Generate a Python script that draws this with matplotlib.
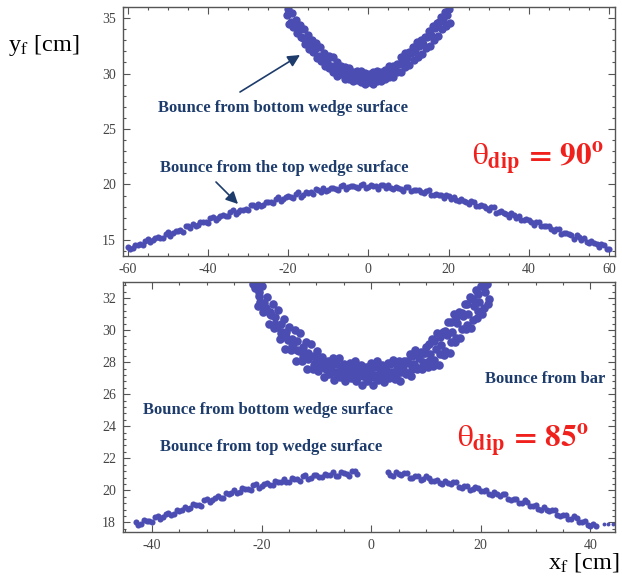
import matplotlib
matplotlib.use('Agg')
import matplotlib.pyplot as plt
from matplotlib.ticker import MultipleLocator

plt.rcParams['font.family'] = 'serif'
plt.rcParams['font.serif'] = ['Liberation Serif', 'DejaVu Serif']
plt.rcParams['mathtext.fontset'] = 'stix'

# --- theta_dip = 90 deg : bounce from top wedge surface (arc)
x90_top = [-60, -58.75, -57.5, -56.25, -55, -53.75, -52.5, -51.25, -50, -48.75, -47.5, -46.25,
           -45, -43.75, -42.5, -41.25, -40, -38.75, -37.5, -36.25, -35, -33.75, -32.5, -31.25,
           -30, -28.75, -27.5, -26.25, -25, -23.75, -22.5, -21.25, -20, -18.75, -17.5, -16.25,
           -15, -13.75, -12.5, -11.25, -10, -8.75, -7.5, -6.25, -5, -3.75, -2.5, -1.25,
           0, 1.25, 2.5, 3.75, 5, 6.25, 7.5, 8.75, 10, 11.25, 12.5, 13.75,
           15, 16.25, 17.5, 18.75, 20, 21.25, 22.5, 23.75, 25, 26.25, 27.5, 28.75,
           30, 31.25, 32.5, 33.75, 35, 36.25, 37.5, 38.75, 40, 41.25, 42.5, 43.75,
           45, 46.25, 47.5, 48.75, 50, 51.25, 52.5, 53.75, 55, 56.25, 57.5, 58.75, 60,
           -59.4, -58.1, -56.9, -55.6, -54.4, -53.1, -51.9, -50.6, -49.4, -48.1, -46.9, -45.6,
           -44.4, -43.1, -41.9, -40.6, -39.4, -38.1, -36.9, -35.6, -34.4, -33.1, -31.9, -30.6,
           -29.4, -28.1, -26.9, -25.6, -24.4, -23.1, -21.9, -20.6, -19.4, -18.1, -16.9, -15.6,
           -14.4, -13.1, -11.9, -10.6, -9.4, -8.1, -6.9, -5.6, -4.4, -3.1, -1.9, -0.6,
           0.6, 1.9, 3.1, 4.4, 5.6, 6.9, 8.1, 9.4, 10.6, 11.9, 13.1, 14.4,
           15.6, 16.9, 18.1, 19.4, 20.6, 21.9, 23.1, 24.4, 25.6, 26.9, 28.1, 29.4,
           30.6, 31.9, 33.1, 34.4, 35.6, 36.9, 38.1, 39.4, 40.6, 41.9, 43.1, 44.4,
           45.6, 46.9, 48.1, 49.4, 50.6, 51.9, 53.1, 54.4, 55.6, 56.9, 58.1, 59.4]
y90_top = [14.35, 14.27, 14.58, 14.52, 15.06, 14.98, 15.26, 15.18, 15.71, 15.58, 15.81, 15.75,
           16.24, 16.41, 16.32, 16.61, 16.54, 17.07, 16.98, 17.25, 17.16, 17.67, 17.52, 17.74,
           17.66, 18.12, 18.27, 18.16, 18.43, 18.33, 18.83, 18.70, 18.95, 18.81, 19.28, 19.09,
           19.27, 19.13, 19.54, 19.64, 19.48, 19.67, 19.50, 19.93, 19.74, 19.89, 19.66, 20.05,
           19.78, 19.84, 19.60, 19.92, 19.92, 19.63, 19.72, 19.45, 19.78, 19.46, 19.51, 19.19,
           19.48, 19.09, 19.07, 18.75, 18.98, 18.88, 18.53, 18.55, 18.21, 18.46, 18.09, 18.09,
           17.72, 17.95, 17.52, 17.46, 17.10, 17.28, 17.16, 16.77, 16.76, 16.39, 16.62, 16.23,
           16.21, 15.81, 16.02, 15.58, 15.50, 15.12, 15.29, 15.16, 14.76, 14.74, 14.36, 14.57, 14.17,
           14.17, 14.55, 14.59, 14.94, 14.80, 15.15, 15.17, 15.54, 15.37, 15.80, 15.88, 16.22,
           16.10, 16.23, 16.60, 16.62, 16.95, 16.80, 17.14, 17.16, 17.51, 17.32, 17.73, 17.80,
           18.12, 17.97, 18.08, 18.43, 18.42, 18.73, 18.54, 18.85, 18.83, 19.14, 18.91, 19.28,
           19.30, 19.56, 19.36, 19.42, 19.71, 19.63, 19.87, 19.62, 19.84, 19.73, 19.95, 19.64,
           19.91, 19.82, 19.99, 19.69, 19.64, 19.81, 19.63, 19.77, 19.40, 19.51, 19.30, 19.43,
           19.01, 19.18, 19.01, 19.09, 18.70, 18.56, 18.67, 18.42, 18.49, 18.06, 18.12, 17.86,
           17.93, 17.46, 17.59, 17.38, 17.42, 16.99, 16.82, 16.89, 16.62, 16.66, 16.21, 16.25,
           15.96, 16.01, 15.53, 15.64, 15.41, 15.43, 15.00, 14.82, 14.88, 14.59, 14.61, 14.15]

# --- theta_dip = 90 deg : bounce from bottom wedge surface (parabola)
x90_bot = [-19.75, -20.3, -19.95, -18.75, -19.3, -18.95, -17.75, -18.3, -17.95, -16.75, -17.3, -16.95,
           -15.75, -16.3, -15.95, -14.75, -15.3, -14.95, -13.75, -14.3, -13.95, -12.75, -13.3, -12.95,
           -11.75, -12.3, -11.95, -10.75, -11.3, -10.95, -9.75, -10.3, -9.95, -8.75, -9.3, -8.95,
           -7.75, -8.3, -7.95, -6.75, -7.3, -6.95, -5.75, -6.3, -5.95, -4.75, -5.3, -4.95,
           -3.75, -4.3, -3.95, -2.75, -3.3, -2.95, -1.75, -2.3, -1.95, -0.75, -1.3, -0.95,
           0.25, -0.3, 0.05, 1.25, 0.7, 1.05, 2.25, 1.7, 2.05, 3.25, 2.7, 3.05,
           4.25, 3.7, 4.05, 5.25, 4.7, 5.05, 6.25, 5.7, 6.05, 7.25, 6.7, 7.05,
           8.25, 7.7, 8.05, 9.25, 8.7, 9.05, 10.25, 9.7, 10.05, 11.25, 10.7, 11.05,
           12.25, 11.7, 12.05, 13.25, 12.7, 13.05, 14.25, 13.7, 14.05, 15.25, 14.7, 15.05,
           16.25, 15.7, 16.05, 17.25, 16.7, 17.05, 18.25, 17.7, 18.05, 19.25, 18.7, 19.05,
           20.25, 19.7, 20.05]
y90_bot = [34.5, 35.28, 35.85, 34.2, 34.65, 35.47, 33.65, 34.32, 34.82, 33.3, 33.92, 34.4,
           32.7, 33.24, 34.0, 32.18, 32.9, 33.45, 31.98, 32.38, 33.0, 31.4, 32.18, 32.75,
           31.15, 31.6, 32.42, 30.7, 31.37, 31.87, 30.5, 31.12, 31.6, 30.15, 30.69, 31.45,
           29.78, 30.5, 31.05, 29.93, 30.18, 30.65, 29.55, 30.18, 30.6, 29.55, 29.85, 30.52,
           29.3, 29.82, 30.17, 29.4, 29.87, 30.2, 29.25, 29.64, 30.25, 29.08, 29.65, 30.05,
           29.23, 29.48, 29.95, 29.1, 29.73, 30.15, 29.3, 29.6, 30.27, 29.3, 29.82, 30.17,
           29.55, 30.02, 30.35, 29.65, 30.04, 30.65, 29.73, 30.3, 30.7, 30.18, 30.43, 30.9,
           30.1, 30.88, 31.45, 30.55, 31.0, 31.82, 30.75, 31.42, 31.92, 31.25, 31.87, 32.35,
           31.5, 32.04, 32.8, 31.73, 32.45, 33.0, 32.28, 32.68, 33.3, 32.5, 33.28, 33.85,
           33.05, 33.5, 34.32, 33.4, 34.07, 34.57, 34.0, 34.62, 35.1, 34.3, 34.84, 35.55,
           34.58, 35.3, 35.85]

# --- theta_dip = 85 deg : bounce from bottom wedge surface / bar (parabola)
x85_bot = [-20.7, -21.25, -20.95, -19.7, -20.25, -19.95, -18.7, -19.25, -18.95, -17.7, -18.25, -17.95,
           -16.7, -17.25, -16.95, -15.7, -16.25, -15.95, -14.7, -15.25, -14.95, -13.7, -14.25, -13.95,
           -12.7, -13.25, -12.95, -11.7, -12.25, -11.95, -10.7, -11.25, -10.95, -9.7, -10.25, -9.95,
           -8.7, -9.25, -8.95, -7.7, -8.25, -7.95, -6.7, -7.25, -6.95, -5.7, -6.25, -5.95,
           -4.7, -5.25, -4.95, -3.7, -4.25, -3.95, -2.7, -3.25, -2.95, -1.7, -2.25, -1.95,
           -0.7, -1.25, -0.95, 0.3, -0.25, 0.05, 1.3, 0.75, 1.05, 2.3, 1.75, 2.05,
           3.3, 2.75, 3.05, 4.3, 3.75, 4.05, 5.3, 4.75, 5.05, 6.3, 5.75, 6.05,
           7.3, 6.75, 7.05, 8.3, 7.75, 8.05, 9.3, 8.75, 9.05, 10.3, 9.75, 10.05,
           11.3, 10.75, 11.05, 12.3, 11.75, 12.05, 13.3, 12.75, 13.05, 14.3, 13.75, 14.05,
           15.3, 14.75, 15.05, 16.3, 15.75, 16.05, 17.3, 16.75, 17.05, 18.3, 17.75, 18.05,
           19.3, 18.75, 19.05, 20.3, 19.75, 20.05, 21.3, 20.75, 21.05,
           -20.5, -19.5, -18.5, -17.5, -16.5, -15.5, -14.5, -13.5, -12.5, -11.5, -10.5,
           -9.5, -8.5, -7.5, -6.5, -5.5, -4.5, -3.5, -2.5, -1.5, -0.5, 0.5, 1.5, 2.5, 3.5,
           4.5, 5.5, 6.5, 7.5, 8.5, 9.5, 10.5, 11.5, 12.5, 13.5, 14.5, 15.5, 16.5, 17.5,
           18.5, 19.5, 20.5, 21.5,
           -21.5, -20.5, -19.5, -18.5, -17.5, -16.5, -15.5, -14.5, -13.5, -12.5, -11.5,
           -10.5, -9.5, -8.5, -7.5, -6.5, -5.5, -4.5, -3.5, -2.5, -1.5, -0.5, 0.5, 1.5,
           2.5, 3.5, 4.5, 5.5, 6.5, 7.5, 8.5, 9.5, 10.5, 11.5, 12.5, 13.5, 14.5, 15.5,
           16.5, 17.5, 18.5, 19.5, 20.5]
y85_bot = [31.5, 32.6, 32.85, 31.15, 31.78, 32.75, 30.4, 31.35, 32.05, 30.1, 30.95, 31.65,
           29.45, 30.22, 31.27, 28.85, 29.9, 30.69, 28.73, 29.35, 30.2, 28.1, 29.2, 30.03,
           28.05, 28.68, 29.83, 27.6, 28.55, 29.25, 27.55, 28.4, 29.1, 27.45, 27.92, 28.67,
           27.1, 27.85, 28.34, 27.23, 27.55, 28.1, 26.9, 27.7, 28.23, 27.05, 27.38, 28.23,
           26.85, 27.5, 27.9, 27.0, 27.55, 27.95, 26.83, 27.3, 28.05, 26.6, 27.35, 27.84,
           26.85, 27.17, 27.72, 26.6, 27.4, 27.93, 26.87, 27.2, 28.05, 26.75, 27.4, 27.8,
           26.98, 27.53, 27.93, 26.93, 27.4, 28.15, 26.83, 27.58, 28.07, 27.23, 27.55, 28.1,
           27.15, 27.95, 28.48, 27.55, 27.88, 28.73, 27.6, 28.25, 28.65, 27.7, 28.55, 28.95,
           27.75, 28.52, 29.45, 27.8, 28.85, 29.82, 28.43, 29.05, 29.9, 28.6, 29.7, 30.53,
           29.25, 29.88, 31.03, 29.5, 30.45, 31.15, 30.05, 30.9, 31.6, 30.1, 31.02, 32.07,
           30.75, 31.5, 32.47, 31.0, 31.75, 32.72, 31.6, 32.4, 32.85,
           32.13, 31.4, 30.98, 30.38, 29.83, 29.56, 28.98, 28.73, 28.3, 28.18, 27.83,
           27.65, 27.63, 27.3, 27.35, 27.12, 27.25, 27.1, 27.03, 27.13, 26.92, 27.05, 26.94,
           27.15, 27.1, 27.13, 27.36, 27.3, 27.6, 27.62, 28.0, 28.1, 28.13, 28.51, 28.68,
           29.23, 29.5, 30.08, 30.33, 30.63, 31.16, 31.38, 31.93,
           32.86, 32.39, 31.72, 31.12, 30.81, 30.35, 29.87, 29.46, 29.29, 28.92, 28.57,
           28.39, 28.18, 27.95, 27.84, 27.87, 27.75, 27.6, 27.77, 27.68, 27.57, 27.54, 27.69,
           27.65, 27.6, 27.87, 27.91, 27.95, 28.09, 28.37, 28.5, 28.6, 29.11, 29.3, 29.57,
           29.96, 30.49, 30.82, 31.07, 31.61, 31.95, 32.27, 32.66]

# --- theta_dip = 85 deg : bounce from top wedge surface (split arc)
x85_top = [-43, -42, -41, -40, -39, -38, -37, -36, -35, -34, -33, -32, -31, -30, -29, -28,
           -27, -26, -25, -24, -23, -22, -21, -20, -19, -18, -17, -16, -15, -14, -13, -12,
           -11, -10, -9, -8, -7, -6, -5, -4, -3, -2.5,
           3, 4, 5, 6, 7, 8, 9, 10, 11, 12, 13, 14, 15, 16, 17, 18, 19, 20,
           21, 22, 23, 24, 25, 26, 27, 28, 29, 30, 31, 32, 33, 34, 35, 36, 37, 38,
           39, 40, 41,
           -42.5, -41.5, -40.5, -39.5, -38.5, -37.5, -36.5, -35.5, -34.5, -33.5, -32.5, -31.5,
           -30.5, -29.5, -28.5, -27.5, -26.5, -25.5, -24.5, -23.5, -22.5, -21.5, -20.5, -19.5,
           -18.5, -17.5, -16.5, -15.5, -14.5, -13.5, -12.5, -11.5, -10.5, -9.5, -8.5, -7.5,
           -6.5, -5.5, -4.5, -3.5,
           3.5, 4.5, 5.5, 6.5, 7.5, 8.5, 9.5, 10.5, 11.5, 12.5, 13.5, 14.5, 15.5, 16.5,
           17.5, 18.5, 19.5, 20.5, 21.5, 22.5, 23.5, 24.5, 25.5, 26.5, 27.5, 28.5, 29.5,
           30.5, 31.5, 32.5, 33.5, 34.5, 35.5, 36.5, 37.5, 38.5, 39.5, 40.5]
y85_top = [18.02, 17.88, 18.10, 18.0, 18.42, 18.33, 18.58, 18.5, 18.73, 18.97, 18.87, 19.11,
           19.05, 19.47, 19.38, 19.63, 19.55, 19.78, 20.02, 19.88, 20.1, 20.0, 20.38, 20.27,
           20.48, 20.35, 20.53, 20.72, 20.55, 20.73, 20.6, 20.95, 20.8, 20.98, 20.81, 20.97,
           21.12, 20.92, 21.06, 20.9, 21.2, 21.0,
           21.13, 20.9, 21.0, 21.07, 20.8, 20.88, 20.63, 20.87, 20.6, 20.66, 20.4, 20.45,
           20.5, 20.22, 20.28, 20.02, 20.23, 19.95, 20.0, 19.71, 19.75, 19.77, 19.45, 19.48,
           19.18, 19.37, 19.05, 19.08, 18.78, 18.8, 18.8, 18.47, 18.48, 18.18, 18.37, 18.05,
           18.06, 17.75, 17.75,
           17.84, 18.15, 18.07, 18.35, 18.20, 18.50, 18.49, 18.78, 18.77, 18.81, 19.15, 19.10,
           19.40, 19.25, 19.55, 19.54, 19.83, 19.82, 19.84, 20.15, 20.07, 20.33, 20.15, 20.42,
           20.36, 20.6, 20.55, 20.53, 20.8, 20.69, 20.92, 20.7, 20.94, 20.85, 21.05, 20.96,
           20.91, 21.15, 21.0, 21.19,
           20.93, 21.13, 20.94, 21.07, 20.75, 20.88, 20.68, 20.78, 20.6, 20.45, 20.6, 20.38,
           20.49, 20.15, 20.27, 20.06, 20.14, 19.94, 19.78, 19.91, 19.66, 19.74, 19.37, 19.45,
           19.21, 19.26, 19.03, 18.85, 18.97, 18.7, 18.77, 18.38, 18.45, 18.21, 18.26, 18.02,
           17.83, 17.93]
# a few stray hits past the end of the arc
x85_tail = [42.5, 43.3, 44.1]
y85_tail = [17.9, 17.92, 17.9]

W, H = 622, 578
dot = '#4b4db3'
navy = '#1d3c6c'
red = '#f0201c'
frame = '#555555'


def fpx(x, y):
    return (x / W, 1 - y / H)


fig = plt.figure(figsize=(W / 100, H / 100), dpi=100)
ax1 = fig.add_axes([123 / W, 1 - 256 / H, 492 / W, 249 / H])
ax2 = fig.add_axes([123 / W, 1 - 532 / H, 492 / W, 250 / H])

ax1.plot(x90_top, y90_top, 'o', color=dot, ms=4.4, mew=0)
ax1.plot(x90_bot, y90_bot, 'o', color=dot, ms=6.0, mew=0)
ax2.plot(x85_top, y85_top, 'o', color=dot, ms=4.4, mew=0)
ax2.plot(x85_tail, y85_tail, 'o', color=dot, ms=2.8, mew=0)
ax2.plot(x85_bot, y85_bot, 'o', color=dot, ms=6.2, mew=0)

ax1.set_xlim(-61.2, 61.5)
ax1.set_ylim(13.55, 36.0)
ax1.xaxis.set_major_locator(MultipleLocator(20))
ax1.xaxis.set_minor_locator(MultipleLocator(5))
ax1.yaxis.set_major_locator(MultipleLocator(5))
ax1.yaxis.set_minor_locator(MultipleLocator(1))

ax2.set_xlim(-45.3, 44.5)
ax2.set_ylim(17.4, 33.0)
ax2.xaxis.set_major_locator(MultipleLocator(20))
ax2.xaxis.set_minor_locator(MultipleLocator(5))
ax2.yaxis.set_major_locator(MultipleLocator(2))
ax2.yaxis.set_minor_locator(MultipleLocator(0.4))

for ax in (ax1, ax2):
    for s in ax.spines.values():
        s.set_color(frame)
        s.set_linewidth(1.0)
    ax.tick_params(which='both', direction='in', top=True, right=True, color=frame,
                   labelcolor='#444444', labelsize=10, width=0.8)
    ax.tick_params(which='major', length=5, pad=5)
    ax.tick_params(which='minor', length=2.5)
    ax.xaxis.set_major_formatter(plt.FuncFormatter(lambda v, p: '%d' % v))

# annotations, top panel
fig.text(*fpx(158, 108), 'Bounce from bottom wedge surface', ha='left', va='center',
         fontsize=12, fontweight='bold', color=navy)
fig.text(*fpx(160, 168), 'Bounce from the top wedge surface', ha='left', va='center',
         fontsize=12, fontweight='bold', color=navy)
fig.text(*fpx(472, 158), r'$\mathrm{\theta}_{\mathbf{dip}}\mathbf{\,=\,90^{o}}$', ha='left',
         va='center', fontsize=22.5, color=red)

# annotations, bottom panel
fig.text(*fpx(143, 410), 'Bounce from bottom wedge surface', ha='left', va='center',
         fontsize=12, fontweight='bold', color=navy)
fig.text(*fpx(160, 447), 'Bounce from top wedge surface', ha='left', va='center',
         fontsize=12, fontweight='bold', color=navy)
fig.text(*fpx(485, 379), 'Bounce from bar', ha='left', va='center',
         fontsize=12, fontweight='bold', color=navy)
fig.text(*fpx(457, 440), r'$\mathrm{\theta}_{\mathbf{dip}}\mathbf{\,=\,85^{o}}$', ha='left',
         va='center', fontsize=22.5, color=red)

arrows = [((240, 92), (300, 55)), ((216, 182), (238, 204)),
          ((213, 399), (275, 345)), ((473, 379), (418, 379)), ((210, 460), (235, 483))]
for tail, head in arrows:
    ax1.annotate('', xy=fpx(*head), xytext=fpx(*tail), xycoords='figure fraction',
                 textcoords='figure fraction',
                 arrowprops=dict(arrowstyle='-|>', color=navy, lw=1.2, mutation_scale=18,
                                 shrinkA=0, shrinkB=0))

fig.text(*fpx(8, 45), r'y$_\mathrm{f}$ [cm]', ha='left', va='center', fontsize=17.5)
fig.text(*fpx(548, 563), r'x$_\mathrm{f}$ [cm]', ha='left', va='center', fontsize=17.5)

fig.savefig('out.png', dpi=100)
